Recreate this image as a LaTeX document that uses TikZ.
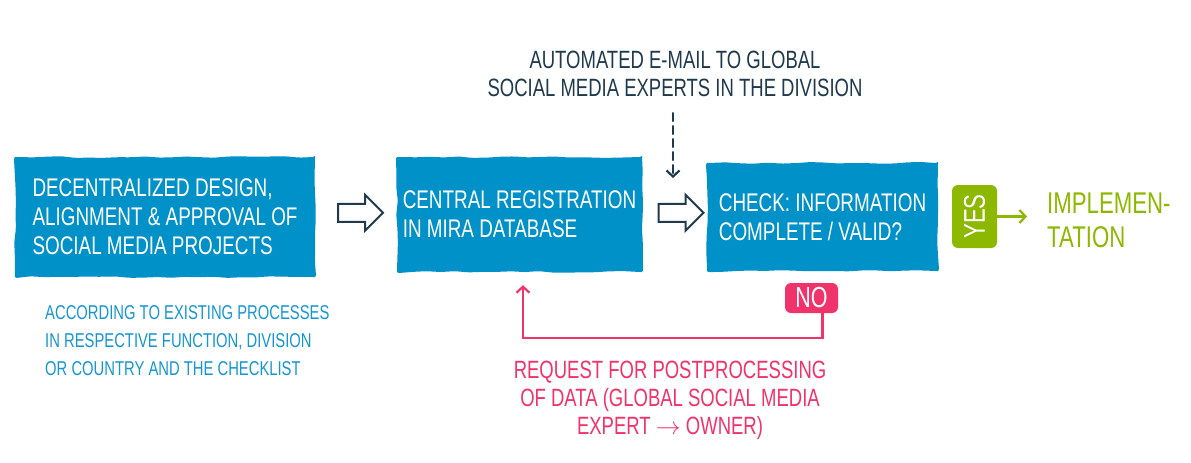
\documentclass[tikz,border=0pt]{standalone}
\usepackage{fontspec}
\setmainfont[FakeStretch=0.74]{Liberation Sans}
\usepackage{graphicx}
\usepackage{tikz}
\usetikzlibrary{arrows.meta,positioning,calc,shapes.arrows,decorations.pathmorphing}
\usepackage{xcolor}

\definecolor{boxblue}{HTML}{0091C8}
\definecolor{noteblue}{HTML}{1596D2}
\definecolor{navy}{HTML}{1F3A4D}
\definecolor{yesgreen}{HTML}{8CB800}
\definecolor{nopink}{HTML}{F0336A}

\begin{document}
\begin{tikzpicture}[
    x=1pt, y=-1pt,
    box/.style={fill=boxblue, text=white, align=left, inner sep=0pt,
                font=\fontsize{25.5}{29}\selectfont, rounded corners=2pt,
                decorate, decoration={random steps, segment length=14pt, amplitude=0.9pt}},
    blockarr/.style={single arrow, draw=navy, fill=white, line width=2pt,
                     minimum height=45pt, inner sep=8pt,
                     single arrow head extend=9pt, single arrow tip angle=90},
    tag/.style={text=white, rounded corners=6pt, inner sep=0pt},
    txt/.style={inner sep=0pt, font=\fontsize{25}{28}\selectfont},
    tip/.style={-{Straight Barb[length=6pt, width=13pt]}, line width=2.2pt, line cap=round},
    node distance=4mm and 4mm
]
\useasboundingbox (0,0) rectangle (1191,463);
% Row 1: process boxes
\node[box, minimum width=300pt, minimum height=120pt] (decentral) at (165,217)
  {DECENTRALIZED DESIGN,\\ALIGNMENT \& APPROVAL OF\\SOCIAL MEDIA PROJECTS};
\node[box, minimum width=245pt, minimum height=115pt] (central) at (519.5,214.5)
  {CENTRAL REGISTRATION\\IN MIRA DATABASE};
\node[box, minimum width=231pt, minimum height=108pt] (check) at (822.5,217)
  {CHECK: INFORMATION\\COMPLETE / VALID?};
% Block arrows between boxes
\node[blockarr] (step1) at ($(decentral.east)!0.5!(central.west)+(0,-3)$) {};
\node[blockarr] (step2) at ($(central.east)!0.5!(check.west)+(2,-3)$) {};
% E-mail note
\node[txt, text=navy, align=center] (mail) at (675,74)
  {AUTOMATED E-MAIL TO GLOBAL\\SOCIAL MEDIA EXPERTS IN THE DIVISION};
\coordinate (mailtip) at (673,178);
\draw[tip, navy, dash pattern=on 8pt off 5pt] (mail.south -| mailtip) ++(0,16) -- (mailtip);
% Notes
\node[txt, text=noteblue, align=left, anchor=west,
      font=\fontsize{20}{28}\selectfont] (rule) at (45,341)
  {ACCORDING TO EXISTING PROCESSES\\IN RESPECTIVE FUNCTION, DIVISION\\OR COUNTRY AND THE CHECKLIST};
% Decision tags
\node[tag, fill=yesgreen, minimum width=45pt, minimum height=63pt,
      font=\fontsize{30}{30}\selectfont] (yes) at (974.5,216.5)
  {\rotatebox{90}{YES}};
\node[txt, text=yesgreen, align=left, anchor=west,
      font=\fontsize{30}{34}\selectfont] (impl) at (1047,220)
  {IMPLEMEN-\\TATION};
\node[tag, fill=nopink, minimum width=53pt, minimum height=30pt,
      font=\fontsize{29}{29}\selectfont] (no) at (811.5,298) {NO};
\node[txt, text=nopink, align=center] (request) at (670,400)
  {REQUEST FOR POSTPROCESSING\\OF DATA (GLOBAL SOCIAL MEDIA\\EXPERT $\rightarrow$ OWNER)};
\coordinate (back) at (523,338);
% Arrows
\draw[tip, yesgreen, shorten >=20pt] (yes.east) -- (impl.west |- yes.east);
\draw[tip, nopink, shorten >=13pt] ([xshift=11pt]no.south) |- (back) -- (back |- central.south);
\end{tikzpicture}
\end{document}
